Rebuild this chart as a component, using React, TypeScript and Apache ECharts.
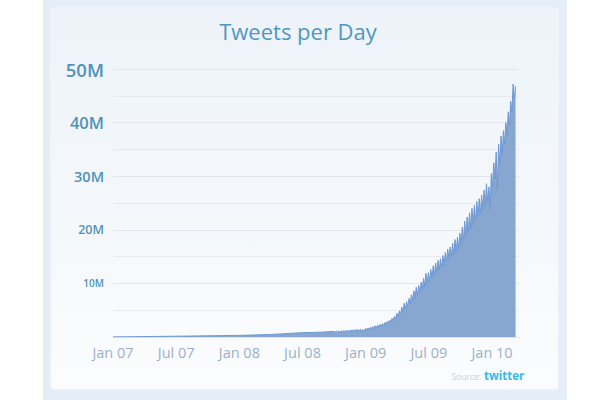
import React, { useEffect, useRef } from "react";
import * as echarts from "echarts";

// Tick labels on the x axis (every 6 months from Jan 2007)
const xTickLabels = ["Jan 07", "Jul 07", "Jan 08", "Jul 08", "Jan 09", "Jul 09", "Jan 10"];
// Y tick labels (millions)
const yTicks = [10, 20, 30, 40, 50];

// Monthly values Jan 2007 – Sep 2008 (millions of tweets/day)
const monthlyStart = "2007-01-01";
const monthlyValues = [
  0.02, 0.04, 0.06, 0.08, 0.1, 0.12, 0.15, 0.17, 0.2, 0.22, 0.25, 0.28,
  0.3, 0.35, 0.4, 0.48, 0.58, 0.7, 0.8, 0.85, 0.92,
];

// Half-weekly values from Oct 1 2008 (every 3.5 days, weekday peak / weekend low)
const halfWeekStart = "2008-10-01";
const halfWeekValues = [
  // Oct 08
  1.05, 0.88, 1.1, 0.9, 1.12, 0.92, 1.15, 0.95, 1.2,
  // Nov 08
  1.0, 1.25, 1.02, 1.28, 1.05, 1.3, 1.08, 1.35,
  // Dec 08
  1.1, 1.38, 1.12, 1.42, 1.15, 1.45, 1.05, 1.35, 1.1,
  // Jan 09
  1.6, 1.3, 1.7, 1.4, 1.8, 1.5, 1.95, 1.6, 2.1,
  // Feb 09
  1.75, 2.2, 1.85, 2.35, 1.95, 2.5, 2.1, 2.7,
  // Mar 09
  2.3, 2.9, 2.5, 3.2, 2.75, 3.5, 3.0, 3.9, 3.3,
  // Apr 09
  4.4, 3.7, 4.9, 4.1, 5.6, 4.6, 6.3, 5.2,
  // May 09
  6.6, 5.6, 7.2, 6.2, 7.9, 6.8, 8.6, 7.3, 9.3,
  // Jun 09
  7.8, 9.6, 8.3, 10.2, 8.9, 11.0, 9.4, 11.9, 10.0,
  // Jul 09
  12.0, 10.4, 12.6, 11.0, 13.3, 11.6, 13.8, 12.0, 14.3,
  // Aug 09
  12.5, 14.6, 13.0, 15.2, 13.4, 15.8, 14.0, 16.4, 14.5,
  // Sep 09
  16.8, 14.9, 17.5, 15.4, 18.2, 16.0, 18.6, 16.5,
  // Oct 09
  19.4, 17.2, 20.5, 18.0, 21.6, 18.8, 22.4, 19.6, 23.2,
  // Nov 09
  20.2, 24.0, 21.0, 24.6, 21.6, 25.3, 22.4, 25.8,
  // Dec 09
  23.0, 26.5, 23.6, 27.4, 24.4, 28.6, 25.0, 28.0, 24.0,
  // Jan 10
  30.5, 28.0, 32.5, 29.5, 34.5, 27.5, 36.0, 32.0, 37.5,
  // Feb 10
  34.0, 38.5, 36.0, 40.0, 37.5, 42.0, 39.5, 44.0,
  // Mar 10
  42.0, 47.2, 44.5, 46.8,
];

const axisStart = "2007-01-01";
const axisEnd = "2010-03-20";

const DAY = 86400000;
const MONTH_DAYS = 1096 / 36;

function monthsSinceStart(ms: number): number {
  return (ms - Date.parse(axisStart)) / DAY / MONTH_DAYS;
}

function buildData(): [number, number][] {
  const out: [number, number][] = [];
  monthlyValues.forEach((v, i) => {
    const d = new Date(monthlyStart + "T00:00:00Z");
    d.setUTCMonth(d.getUTCMonth() + i);
    out.push([monthsSinceStart(d.getTime()), v]);
  });
  const s = Date.parse(halfWeekStart + "T00:00:00Z");
  halfWeekValues.forEach((v, i) => {
    out.push([monthsSinceStart(s + i * 3.5 * DAY), v]);
  });
  return out;
}

export default function App() {
  const ref = useRef<HTMLDivElement>(null);

  useEffect(() => {
    document.body.style.margin = "0";
    const chart = echarts.init(ref.current!, null, { renderer: "svg" });
    const xMax = monthsSinceStart(Date.parse(axisEnd + "T00:00:00Z"));
    const rich: Record<string, any> = {};
    const sizes: Record<number, number> = { 10: 10, 20: 12.5, 30: 14.5, 40: 16.5, 50: 18.5 };
    yTicks.forEach((t) => {
      rich["l" + t] = {
        fontSize: sizes[t],
        color: "#4f93b9",
        fontFamily: "Open Sans",
        fontWeight: 600,
      };
    });

    chart.setOption({
      animation: false,
      backgroundColor: "#ffffff",
      graphic: [
        {
          type: "rect",
          z: -10,
          shape: { x: 43, y: 0, width: 524, height: 400 },
          style: { fill: "#e5eef7" },
          silent: true,
        },
        {
          type: "rect",
          z: -9,
          shape: { x: 51, y: 8, width: 507, height: 381 },
          style: {
            fill: new echarts.graphic.LinearGradient(0, 0, 0, 1, [
              { offset: 0, color: "#edf3f9" },
              { offset: 1, color: "#fbfcfd" },
            ]),
            stroke: "#f3f7fb",
            lineWidth: 1,
          },
          silent: true,
        },
        {
          type: "text",
          x: 298,
          y: 31,
          style: {
            text: "Tweets per Day",
            fontSize: 22,
            fontFamily: "Open Sans",
            fontWeight: 500,
            fill: "#4f98c1",
            align: "center",
            verticalAlign: "middle",
          },
        },
        {
          type: "text",
          x: 481,
          y: 376,
          style: {
            text: "Source:",
            fontSize: 8.5,
            fontFamily: "Open Sans",
            fill: "#c9d1da",
            align: "right",
            verticalAlign: "middle",
          },
        },
        {
          type: "text",
          x: 484,
          y: 375,
          style: {
            text: "twitter",
            fontSize: 11.5,
            fontWeight: "bold",
            fontFamily: "Open Sans",
            fill: "#2fbcef",
            align: "left",
            verticalAlign: "middle",
          },
        },
      ],
      grid: { left: 113, right: 91, top: 69, bottom: 63, containLabel: false },
      xAxis: {
        type: "value",
        min: 0,
        max: xMax,
        interval: 6,
        axisLine: { show: true, lineStyle: { color: "#dfe4ea", width: 1 } },
        axisTick: { show: false },
        splitLine: { show: false },
        axisLabel: {
          margin: 8,
          color: "#9db0ca",
          fontSize: 14.5,
          fontFamily: "Open Sans",
          showMaxLabel: false,
          formatter: (v: number) => {
            const idx = Math.round(v / 6);
            if (Math.abs(v - idx * 6) > 0.01) return "";
            return xTickLabels[idx] ?? "";
          },
        },
      },
      yAxis: {
        type: "value",
        min: 0,
        max: 50,
        interval: 10,
        axisLine: { show: false },
        axisTick: { show: false },
        splitLine: { show: true, lineStyle: { color: "#e1e6ec", width: 1 } },
        minorTick: { show: false, splitNumber: 2 },
        minorSplitLine: { show: true, lineStyle: { color: "#e6eaef", width: 1 } },
        axisLabel: {
          margin: 9,
          rich,
          formatter: (v: number) => (v === 0 ? "" : `{l${v}|${v}M}`),
        },
      },
      series: [
        {
          type: "line",
          data: buildData(),
          showSymbol: false,
          symbol: "none",
          lineStyle: { color: "#6e99d5", width: 1 },
          areaStyle: { color: "#87a6d0", opacity: 1 },
          z: 3,
        },
      ],
    });
    return () => chart.dispose();
  }, []);

  return <div ref={ref} style={{ width: 610, height: 400 }} />;
}
